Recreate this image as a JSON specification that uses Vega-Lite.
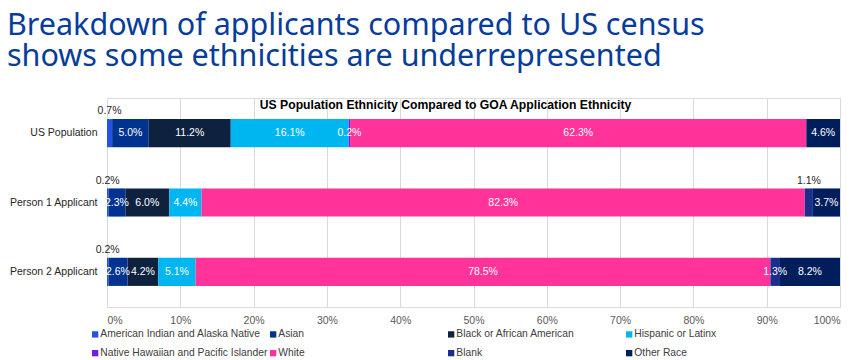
{
  "$schema": "https://vega.github.io/schema/vega-lite/v6.json",
  "width": 733,
  "height": 209,
  "autosize": {"type": "none"},
  "padding": {"left": 107, "top": 98, "right": 18, "bottom": 53},
  "background": "white",
  "title": {
    "text": ["Breakdown of applicants compared to US census", "shows some ethnicities are underrepresented"],
    "anchor": "start",
    "frame": "group",
    "dx": -100,
    "fontSize": 30.5,
    "font": "Noto Sans",
    "fontWeight": "normal",
    "color": "#063C9A",
    "lineHeight": 30.5,
    "offset": 26
  },
  "data": {
    "values": [
      {"Group": "US Population", "Ethnicity": "American Indian and Alaska Native", "value": 0.7},
      {"Group": "US Population", "Ethnicity": "Asian", "value": 5.0},
      {"Group": "US Population", "Ethnicity": "Black or African American", "value": 11.2},
      {"Group": "US Population", "Ethnicity": "Hispanic or Latinx", "value": 16.1},
      {"Group": "US Population", "Ethnicity": "Native Hawaiian and Pacific Islander", "value": 0.2},
      {"Group": "US Population", "Ethnicity": "White", "value": 62.3},
      {"Group": "US Population", "Ethnicity": "Other Race", "value": 4.6},
      {"Group": "Person 1 Applicant", "Ethnicity": "American Indian and Alaska Native", "value": 0.2},
      {"Group": "Person 1 Applicant", "Ethnicity": "Asian", "value": 2.3},
      {"Group": "Person 1 Applicant", "Ethnicity": "Black or African American", "value": 6.0},
      {"Group": "Person 1 Applicant", "Ethnicity": "Hispanic or Latinx", "value": 4.4},
      {"Group": "Person 1 Applicant", "Ethnicity": "White", "value": 82.3},
      {"Group": "Person 1 Applicant", "Ethnicity": "Blank", "value": 1.1},
      {"Group": "Person 1 Applicant", "Ethnicity": "Other Race", "value": 3.7},
      {"Group": "Person 2 Applicant", "Ethnicity": "American Indian and Alaska Native", "value": 0.2},
      {"Group": "Person 2 Applicant", "Ethnicity": "Asian", "value": 2.6},
      {"Group": "Person 2 Applicant", "Ethnicity": "Black or African American", "value": 4.2},
      {"Group": "Person 2 Applicant", "Ethnicity": "Hispanic or Latinx", "value": 5.1},
      {"Group": "Person 2 Applicant", "Ethnicity": "White", "value": 78.5},
      {"Group": "Person 2 Applicant", "Ethnicity": "Blank", "value": 1.3},
      {"Group": "Person 2 Applicant", "Ethnicity": "Other Race", "value": 8.2}
    ]
  },
  "transform": [
    {"calculate": "indexof(['American Indian and Alaska Native','Asian','Black or African American','Hispanic or Latinx','Native Hawaiian and Pacific Islander','White','Blank','Other Race'], datum.Ethnicity)", "as": "idx"},
    {"stack": "value", "groupby": ["Group"], "sort": [{"field": "idx", "order": "ascending"}], "offset": "normalize", "as": ["v0", "v1"]},
    {"calculate": "(datum.v0 + datum.v1) / 2", "as": "mid"},
    {"calculate": "format(datum.value, '.1f') + '%'", "as": "label"}
  ],
  "layer": [
    {
      "mark": {"type": "bar"},
      "encoding": {
        "y": {
          "field": "Group", "type": "nominal",
          "sort": ["US Population", "Person 1 Applicant", "Person 2 Applicant"],
          "scale": {"paddingInner": 0.594, "paddingOuter": 0.304},
          "axis": {"title": null, "ticks": false, "domain": false, "labelPadding": 10, "labelFontSize": 10.5, "labelFont": "Liberation Sans", "labelColor": "#262626"}
        },
        "x": {
          "field": "v0", "type": "quantitative",
          "scale": {"domain": [0, 1]},
          "axis": {"orient": "bottom", "title": null, "format": ".0%", "values": [0, 0.1, 0.2, 0.3, 0.4, 0.5, 0.6, 0.7, 0.8, 0.9, 1], "grid": true, "gridColor": "#D9D9D9", "domain": false, "ticks": false, "labelPadding": 8, "labelFontSize": 10.5, "labelFont": "Liberation Sans", "labelColor": "#595959"}
        },
        "x2": {"field": "v1"},
        "color": {
          "field": "Ethnicity", "type": "nominal",
          "scale": {
            "domain": ["American Indian and Alaska Native", "Asian", "Black or African American", "Hispanic or Latinx", "Native Hawaiian and Pacific Islander", "White", "Blank", "Other Race"],
            "range": ["#2452E6", "#00338F", "#0E223F", "#00B6F0", "#7020DC", "#FF3399", "#1A2F8C", "#001E5C"]
          },
          "legend": {"orient": "none", "legendX": -17, "legendY": 231, "direction": "horizontal", "columns": 4, "gridAlign": "all", "symbolType": "square", "symbolSize": 40, "symbolStrokeWidth": 0, "labelFontSize": 10.3, "labelFont": "Liberation Sans", "labelColor": "#404040", "labelOffset": 0, "columnPadding": -5, "rowPadding": 8, "title": null, "padding": 0, "labelLimit": 300}
        }
      }
    },
    {
      "transform": [{"filter": "!(datum.Ethnicity === 'American Indian and Alaska Native' || (datum.Ethnicity === 'Blank' && datum.value < 1.2))"}],
      "mark": {"type": "text", "color": "white", "fontSize": 10.5, "font": "Liberation Sans"},
      "encoding": {
        "y": {"field": "Group", "type": "nominal", "sort": ["US Population", "Person 1 Applicant", "Person 2 Applicant"]},
        "x": {
          "field": "mid", "type": "quantitative",
          "axis": {"orient": "top", "labels": false, "ticks": false, "domain": false, "grid": false, "title": "US Population Ethnicity Compared to GOA Application Ethnicity", "titleFontSize": 12.2, "titleFontWeight": "bold", "titleFont": "Liberation Sans", "titleColor": "#000000", "titleX": 338, "titleY": 6, "titleBaseline": "middle", "titleAlign": "center"}
        },
        "text": {"field": "label"}
      }
    },
    {
      "transform": [{"filter": "datum.Ethnicity === 'American Indian and Alaska Native' || (datum.Ethnicity === 'Blank' && datum.value < 1.2)"}],
      "mark": {"type": "text", "color": "#262626", "fontSize": 10.5, "font": "Liberation Sans", "yOffset": -22},
      "encoding": {
        "y": {"field": "Group", "type": "nominal", "sort": ["US Population", "Person 1 Applicant", "Person 2 Applicant"]},
        "x": {"field": "mid", "type": "quantitative", "axis": null},
        "text": {"field": "label"}
      }
    }
  ],
  "resolve": {"axis": {"x": "independent"}}
}
